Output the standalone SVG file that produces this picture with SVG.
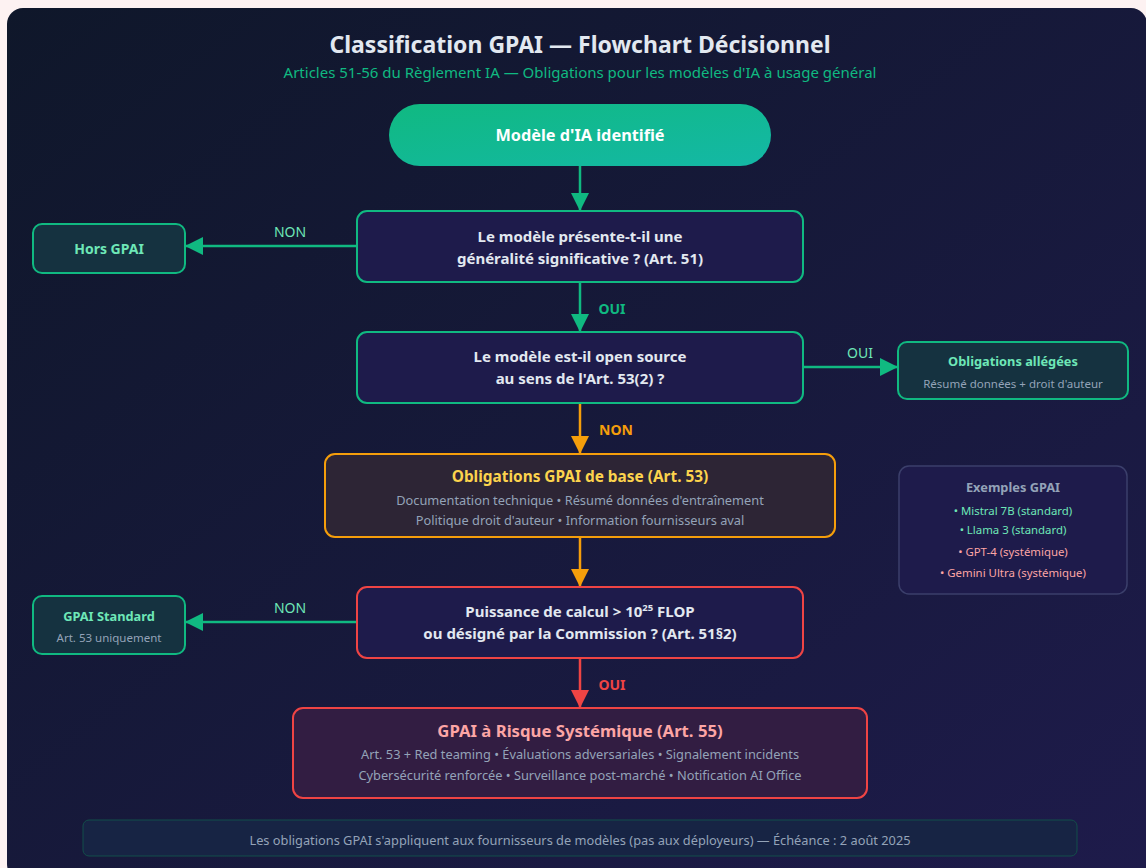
<svg xmlns="http://www.w3.org/2000/svg" width="1146" height="868" viewBox="0 0 1146 868">
  <defs>
    <linearGradient id="bg" x1="0" y1="0" x2="1" y2="1">
      <stop offset="0" stop-color="#0f172a"/>
      <stop offset="1" stop-color="#1e1b4b"/>
    </linearGradient>
    <linearGradient id="startg" x1="0" y1="0" x2="1" y2="1">
      <stop offset="0" stop-color="#10b981"/>
      <stop offset="1" stop-color="#14b8a6"/>
    </linearGradient>
    <marker id="ah-g" viewBox="0 0 18 18" refX="18" refY="9" markerWidth="18" markerHeight="18" markerUnits="userSpaceOnUse" orient="auto">
      <path d="M0,0 L18,9 L0,18 Z" fill="#10b981"/>
    </marker>
    <marker id="ah-o" viewBox="0 0 18 18" refX="18" refY="9" markerWidth="18" markerHeight="18" markerUnits="userSpaceOnUse" orient="auto">
      <path d="M0,0 L18,9 L0,18 Z" fill="#f59e0b"/>
    </marker>
    <marker id="ah-r" viewBox="0 0 18 18" refX="18" refY="9" markerWidth="18" markerHeight="18" markerUnits="userSpaceOnUse" orient="auto">
      <path d="M0,0 L18,9 L0,18 Z" fill="#ef4444"/>
    </marker>
  </defs>
  <style>
    text { font-family: "Noto Sans", "Open Sans", "Liberation Sans", sans-serif; text-anchor: middle; }
    .title { font-size: 23px; font-weight: 700; fill: #e2e8f0; }
    .subtitle { font-size: 15px; fill: #10b981; }
    .q { font-size: 15px; font-weight: 700; fill: #e2e8f0; }
    .dec { fill: #1e1b4b; stroke-width: 2; }
    .term { fill: #153240; stroke: #10b981; stroke-width: 2; }
    .tt { font-size: 12.8px; font-weight: 700; fill: #6ee7b7; }
    .sub { font-size: 11.5px; fill: #94a3b8; }
    .body { font-size: 12.8px; fill: #94a3b8; }
    .lbl { font-size: 14px; fill: #6ee7b7; }
    .lblb { font-size: 14px; font-weight: 700; }
    .conn { fill: none; stroke-width: 2.5; }
  </style>

  <rect x="0" y="0" width="1146" height="868" fill="#fdf2f2"/>
  <rect x="7" y="8" width="1140" height="872" rx="16" fill="url(#bg)"/>

  <text class="title" x="580" y="53">Classification GPAI — Flowchart Décisionnel</text>
  <text class="subtitle" x="580" y="78">Articles 51-56 du Règlement IA — Obligations pour les modèles d'IA à usage général</text>

  <g id="connectors">
    <line class="conn" x1="580" y1="166" x2="580" y2="211" stroke="#10b981" marker-end="url(#ah-g)"/>
    <line class="conn" x1="357" y1="246" x2="185" y2="246" stroke="#10b981" marker-end="url(#ah-g)"/>
    <text class="lbl" x="290" y="237">NON</text>
    <line class="conn" x1="580" y1="282" x2="580" y2="332" stroke="#10b981" marker-end="url(#ah-g)"/>
    <text class="lblb" x="612" y="314" fill="#10b981">OUI</text>
    <line class="conn" x1="803" y1="367" x2="898" y2="367" stroke="#10b981" marker-end="url(#ah-g)"/>
    <text class="lbl" x="860" y="358">OUI</text>
    <line class="conn" x1="580" y1="403" x2="580" y2="454" stroke="#f59e0b" marker-end="url(#ah-o)"/>
    <text class="lblb" x="616" y="435" fill="#f59e0b">NON</text>
    <line class="conn" x1="580" y1="537" x2="580" y2="587" stroke="#f59e0b" marker-end="url(#ah-o)"/>
    <line class="conn" x1="357" y1="622" x2="185" y2="622" stroke="#10b981" marker-end="url(#ah-g)"/>
    <text class="lbl" x="290" y="613">NON</text>
    <line class="conn" x1="580" y1="658" x2="580" y2="708" stroke="#ef4444" marker-end="url(#ah-r)"/>
    <text class="lblb" x="612" y="690" fill="#ef4444">OUI</text>
  </g>

  <g id="start">
    <rect x="389" y="104" width="382" height="62" rx="31" fill="url(#startg)"/>
    <text x="580" y="141" font-size="16.3" font-weight="700" fill="#ffffff">Modèle d'IA identifié</text>
  </g>

  <g id="q-generalite">
    <rect class="dec" x="357" y="211" width="446" height="71" rx="10" stroke="#10b981"/>
    <text class="q" x="580" y="242">Le modèle présente-t-il une</text>
    <text class="q" x="580" y="264">généralité significative ? (Art. 51)</text>
  </g>

  <g id="hors-gpai">
    <rect class="term" x="33" y="224" width="152" height="49" rx="9"/>
    <text x="109" y="254" font-size="14" font-weight="700" fill="#6ee7b7">Hors GPAI</text>
  </g>

  <g id="q-opensource">
    <rect class="dec" x="357" y="332" width="446" height="71" rx="10" stroke="#10b981"/>
    <text class="q" x="580" y="362">Le modèle est-il open source</text>
    <text class="q" x="580" y="384">au sens de l'Art. 53(2) ?</text>
  </g>

  <g id="allegees">
    <rect class="term" x="898" y="342" width="230" height="57" rx="9" fill="#17394a"/>
    <text class="tt" x="1013" y="366">Obligations allégées</text>
    <text class="sub" x="1013" y="388">Résumé données + droit d'auteur</text>
  </g>

  <g id="base">
    <rect x="325" y="454" width="510" height="83" rx="10" fill="#2d2535" stroke="#f59e0b" stroke-width="2"/>
    <text x="580" y="482" font-size="15.4" font-weight="700" fill="#fcd34d">Obligations GPAI de base (Art. 53)</text>
    <text class="body" x="580" y="505">Documentation technique • Résumé données d'entraînement</text>
    <text class="body" x="580" y="525">Politique droit d'auteur • Information fournisseurs aval</text>
  </g>

  <g id="q-flop">
    <rect class="dec" x="357" y="587" width="446" height="71" rx="10" stroke="#ef4444"/>
    <text class="q" x="580" y="617">Puissance de calcul &gt; 10<tspan font-size="9.5" dy="-6">25</tspan><tspan dy="6"> FLOP</tspan></text>
    <text class="q" x="580" y="639">ou désigné par la Commission ? (Art. 51§2)</text>
  </g>

  <g id="standard">
    <rect class="term" x="33" y="596" width="152" height="58" rx="9" fill="#17394a"/>
    <text class="tt" x="109" y="621">GPAI Standard</text>
    <text class="sub" x="109" y="642">Art. 53 uniquement</text>
  </g>

  <g id="systemique">
    <rect x="293" y="708" width="574" height="90" rx="10" fill="#321d42" stroke="#ef4444" stroke-width="2"/>
    <text x="580" y="737" font-size="16.7" font-weight="700" fill="#fca5a5">GPAI à Risque Systémique (Art. 55)</text>
    <text class="body" x="580" y="759">Art. 53 + Red teaming • Évaluations adversariales • Signalement incidents</text>
    <text class="body" x="580" y="780">Cybersécurité renforcée • Surveillance post-marché • Notification AI Office</text>
  </g>

  <g id="exemples">
    <rect x="899" y="466" width="228" height="128" rx="10" fill="#1e1b4b" stroke="#3b3f6b" stroke-width="1.5"/>
    <text x="1013" y="492" font-size="12.8" font-weight="700" fill="#94a3b8">Exemples GPAI</text>
    <text x="1013" y="515" font-size="11.4" fill="#6ee7b7">• Mistral 7B (standard)</text>
    <text x="1013" y="534" font-size="11.4" fill="#6ee7b7">• Llama 3 (standard)</text>
    <text x="1013" y="556" font-size="11.4" fill="#fca5a5">• GPT-4 (systémique)</text>
    <text x="1013" y="577" font-size="11.4" fill="#fca5a5">• Gemini Ultra (systémique)</text>
  </g>

  <g id="footer">
    <rect x="83" y="820" width="994" height="36" rx="6" fill="#172444" stroke="#134e4a" stroke-width="1"/>
    <text class="body" x="580" y="845">Les obligations GPAI s'appliquent aux fournisseurs de modèles (pas aux déployeurs) — Échéance : 2 août 2025</text>
  </g>
</svg>
